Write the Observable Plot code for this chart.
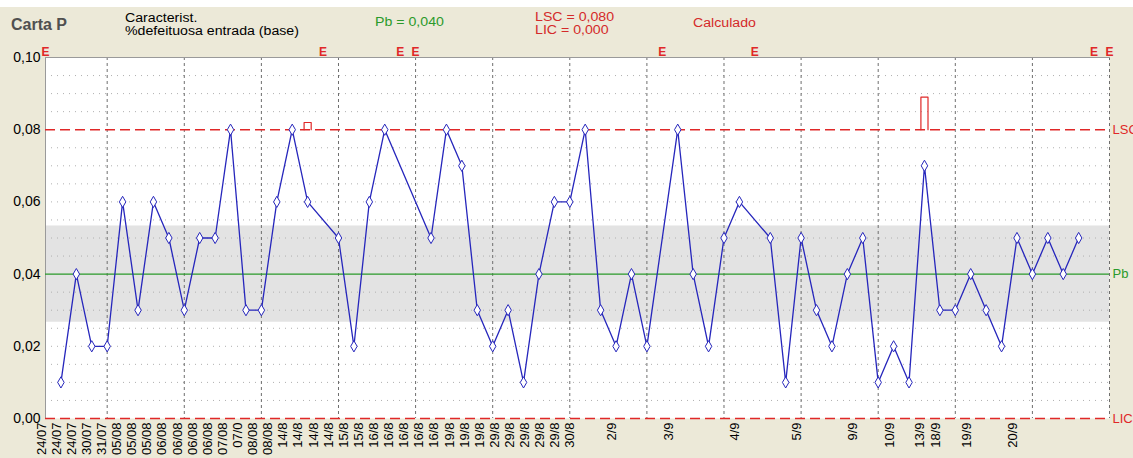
<!DOCTYPE html>
<html><head><meta charset="utf-8">
<script src="https://cdn.jsdelivr.net/npm/d3@7"></script>
<script src="https://cdn.jsdelivr.net/npm/@observablehq/plot@0.6"></script>
<style>
body{margin:0;background:#ECE9D8;width:1133px;height:458px;overflow:hidden;position:relative;font-family:"Liberation Sans",Arial,sans-serif;}
#topstrip{position:absolute;left:0;top:0;width:1133px;height:7px;background:#fff;}
.h{position:absolute;white-space:nowrap;font-size:12px;line-height:12.5px;transform:scaleX(1.18);transform-origin:0 0;}
#chart{position:absolute;left:0;top:40px;}
</style></head><body>
<div id="topstrip"></div>
<div class="h" style="left:11px;top:19px;font-size:16px;font-weight:bold;color:#505050;transform:none">Carta P</div>
<div class="h" style="left:125px;top:12px;color:#000">Caracterist.<br>%defeituosa entrada (base)</div>
<div class="h" style="left:375px;top:16px;color:#2a9a2a">Pb = 0,040</div>
<div class="h" style="left:535px;top:11px;color:#d42a2a">LSC = 0,080<br>LIC = 0,000</div>
<div class="h" style="left:693px;top:17px;color:#d42a2a">Calculado</div>
<div id="chart"></div>
<script>
// proportion defective per sample slot (null = excluded sample)
const slotValues = [
  null, 0.01, 0.04, 0.02, 0.02, 0.06, 0.03, 0.06, 0.05, 0.03,
  0.05, 0.05, 0.08, 0.03, 0.03, 0.06, 0.08, 0.06, null, 0.05,
  0.02, 0.06, 0.08, null, null, 0.05, 0.08, 0.07, 0.03, 0.02,
  0.03, 0.01, 0.04, 0.06, 0.06, 0.08, 0.03, 0.02, 0.04, 0.02,
  null, 0.08, 0.04, 0.02, 0.05, 0.06, null, 0.05, 0.01, 0.05,
  0.03, 0.02, 0.04, 0.05, 0.01, 0.02, 0.01, 0.07, 0.03, 0.03,
  0.04, 0.03, 0.02, 0.05, 0.04, 0.05, 0.04, 0.05, null, null
];
const pBar = 0.04;
const lsc = 0.08;
const lic = 0.0;
const sigma = (lsc - pBar) / 3;
// rule-violation markers above LSC
const violationSlots = [17, 57];
const violationPeaks = [0.082, 0.089];
// packed date labels (left part of axis)
const packedLabels = ["24/07","24/07","24/07","30/07","31/07","05/08","05/08","05/08",
  "06/08","06/08","06/08","06/08","07/08","07/0","08/08","08/08","14/8","14/8","14/8","14/8",
  "15/8","15/8","16/8","16/8","16/8","16/8","16/8","19/8","19/8","19/8",
  "29/8","29/8","29/8","29/8","29/8","30/8"];
const packedLastSlot = 34.3;
// sparse date labels (right part of axis)
const sparseLabels = ["2/9","3/9","4/9","5/9","9/9","10/9","13/9","18/9","19/9","20/9"];
const sparseSlots = [37, 40.7, 45, 49, 52.6, 55, 57, 58, 60, 63];
const yTicks = [0, 0.02, 0.04, 0.06, 0.08, 0.10];

const nSlots = slotValues.length;
const rows = slotValues.map((p, slot) => ({slot, p}));
const present = rows.filter(d => d.p != null);
const missing = rows.filter(d => d.p == null);
const majorSlots = d3.range(4, nSlots, 5);
const minorY = d3.range(1, 20).map(i => i * 0.005).filter(v => Math.abs(v - lsc) > 1e-9 && Math.abs(v - pBar) > 1e-9);
const pitch = packedLastSlot / (packedLabels.length - 1);
const ticks = packedLabels.map((label, i) => ({label, slot: i * pitch}))
  .concat(sparseLabels.map((label, i) => ({label, slot: sparseSlots[i]})));
const bumpW = 0.23;
const bumps = violationSlots.flatMap((s, i) => [
  {id: i, slot: s - bumpW, p: lsc}, {id: i, slot: s - bumpW, p: violationPeaks[i]},
  {id: i, slot: s + bumpW, p: violationPeaks[i]}, {id: i, slot: s + bumpW, p: lsc}]);
const band = [{x1: 0, x2: nSlots - 1, y1: pBar - sigma, y2: pBar + sigma}];
const limitLabels = [
  {p: lsc, t: "LSC", c: "#e02828"},
  {p: pBar, t: "Pb", c: "#2a9a2a"},
  {p: lic, t: "LIC", c: "#e02828"}];
const red = "#e02828", blue = "#2626bc", green = "#2a9a2a";

const chart = Plot.plot({
  width: 1133, height: 418,
  marginTop: 17, marginBottom: 40, marginLeft: 45, marginRight: 24,
  style: {fontFamily: "Liberation Sans, Arial, sans-serif", background: "transparent", overflow: "visible"},
  x: {type: "linear", domain: [0, nSlots - 1], axis: null},
  y: {domain: [0, 0.1], axis: null},
  marks: [
    Plot.frame({fill: "white", stroke: null}),
    Plot.rect(band, {x1: "x1", x2: "x2", y1: "y1", y2: "y2", fill: "#e3e3e3"}),
    Plot.ruleY(minorY, {stroke: "#b0b0b0", strokeDasharray: "1,5"}),
    Plot.ruleX(majorSlots, {stroke: "#6e6e6e", strokeDasharray: "3,3"}),
    Plot.frame({stroke: "#9a9a9a", anchor: "top"}),
    Plot.frame({stroke: "#9a9a9a", anchor: "left"}),
    Plot.ruleY([pBar], {stroke: green, strokeWidth: 1.3}),
    Plot.ruleY([lsc, lic], {stroke: red, strokeWidth: 1.5, strokeDasharray: "10,5"}),
    Plot.line(bumps, {x: "slot", y: "p", z: "id", stroke: red, strokeWidth: 1.2}),
    Plot.line(present, {x: "slot", y: "p", stroke: blue, strokeWidth: 1.3}),
    Plot.dot(present, {x: "slot", y: "p", symbol: "diamond", r: 3.4, fill: "white", stroke: blue, strokeWidth: 1}),
    Plot.text(missing, {x: "slot", frameAnchor: "top", dy: -10.5, text: () => "E", fill: red, fontSize: 12, fontWeight: "bold"}),
    Plot.text(limitLabels, {y: "p", frameAnchor: "right", dx: 3, textAnchor: "start", text: "t", fill: "c", fontSize: 13}),
    Plot.text(ticks, {x: "slot", frameAnchor: "bottom", dy: 4, rotate: -90, textAnchor: "end", text: "label", fontSize: 13, fill: "black"}),
    Plot.axisY({ticks: yTicks, tickSize: 0, tickPadding: 5, label: null, fontSize: 14, fill: "black",
      tickFormat: d => d.toFixed(2).replace(".", ",")})
  ]
});
document.getElementById("chart").appendChild(chart);
</script>
</body></html>
